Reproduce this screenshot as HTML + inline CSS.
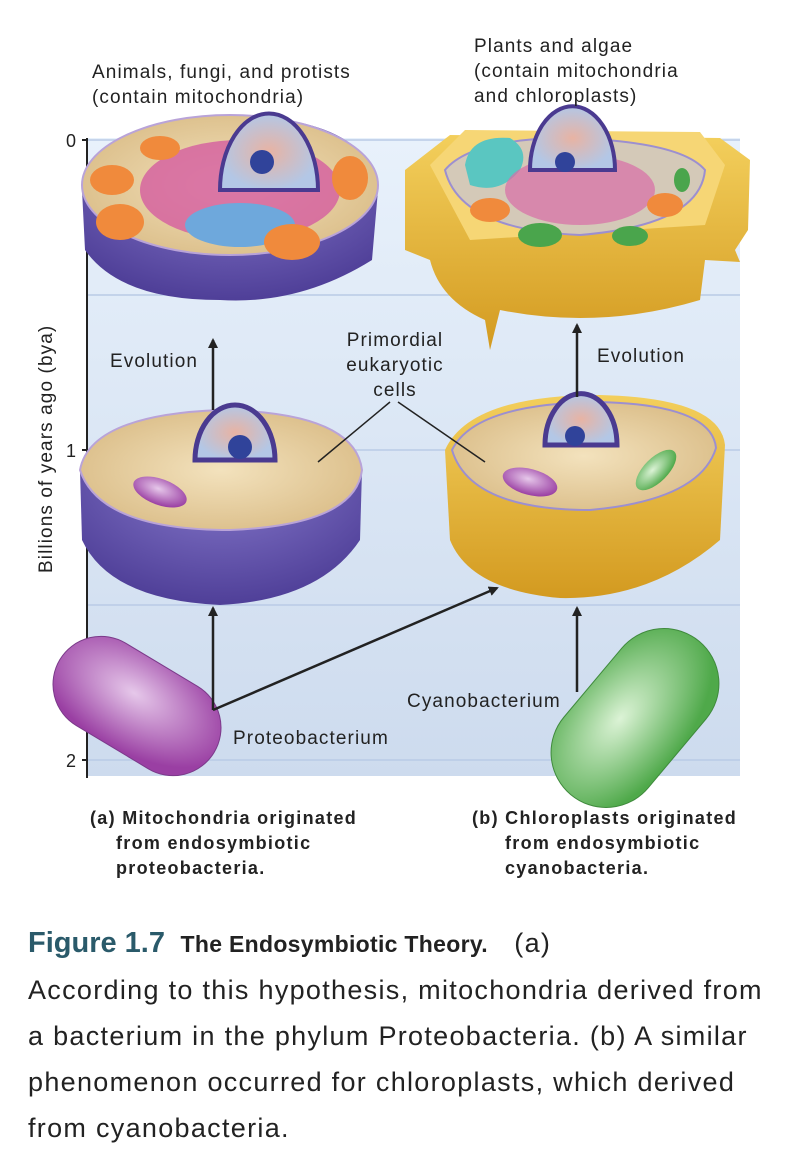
<!DOCTYPE html>
<html><head><meta charset="utf-8"><style>
body{margin:0;width:792px;height:1166px;background:#fff;font-family:"Liberation Sans",sans-serif;overflow:hidden;position:relative}
.t{position:absolute;color:#222;font-size:19px;line-height:25px;letter-spacing:1.1px;white-space:nowrap}
.cap{position:absolute;font-weight:bold;font-size:18px;line-height:25px;color:#222;letter-spacing:1.3px;white-space:nowrap}
#fig{position:absolute;left:28px;top:920px;width:770px;font-size:27px;line-height:46px;color:#222;letter-spacing:1.3px;white-space:nowrap}
</style></head><body>
<svg width="792" height="900" style="position:absolute;left:0;top:0">
<defs>
<linearGradient id="bg" x1="0" y1="0" x2="0" y2="1"><stop offset="0" stop-color="#e8f1fb"/><stop offset="1" stop-color="#cddbee"/></linearGradient>
<radialGradient id="pur" cx=".5" cy=".3" r=".7"><stop offset="0" stop-color="#8b7ed0"/><stop offset="1" stop-color="#4f3f98"/></radialGradient>
<radialGradient id="tan" cx=".5" cy=".5" r=".6"><stop offset="0" stop-color="#f3e2bd"/><stop offset="1" stop-color="#d9bb85"/></radialGradient>
<linearGradient id="yel" x1="0" y1="0" x2="0" y2="1"><stop offset="0" stop-color="#f3cf5c"/><stop offset="1" stop-color="#d39a20"/></linearGradient>
<radialGradient id="pb" cx=".45" cy=".4" r=".6"><stop offset="0" stop-color="#e6c8ea"/><stop offset="1" stop-color="#9a3fa3"/></radialGradient>
<radialGradient id="gb" cx=".45" cy=".4" r=".6"><stop offset="0" stop-color="#dcf3d6"/><stop offset="1" stop-color="#4fa94a"/></radialGradient>
<radialGradient id="nuc" cx=".5" cy=".5" r=".5"><stop offset="0" stop-color="#e8b3a3"/><stop offset="1" stop-color="#b3c7e6"/></radialGradient>
<marker id="ah" markerWidth="10" markerHeight="10" refX="8" refY="5" orient="auto" markerUnits="userSpaceOnUse"><path d="M0,0 L10,5 L0,10 z" fill="#222"/></marker>
</defs>
<g id="plot"></g>
<g>
<path d="M82,190 Q90,120 230,115 Q370,118 378,190 L372,260 Q300,305 220,300 Q120,300 85,250 Z" fill="url(#pur)"/>
<ellipse cx="230" cy="185" rx="148" ry="70" fill="url(#tan)" stroke="#b9a3d8" stroke-width="2"/>
<ellipse cx="240" cy="190" rx="100" ry="50" fill="#d45ca0" opacity=".8"/>
<ellipse cx="240" cy="225" rx="55" ry="22" fill="#6ea8dc"/>
<path d="M220,190 A48,75 0 0 1 318,190 Z" fill="url(#nuc)" stroke="#4a3a90" stroke-width="4"/>
<circle cx="262" cy="162" r="12" fill="#30439a"/>
<ellipse cx="112" cy="180" rx="22" ry="15" fill="#f08a3c"/>
<ellipse cx="120" cy="222" rx="24" ry="18" fill="#f08a3c"/>
<ellipse cx="160" cy="148" rx="20" ry="12" fill="#f08a3c"/>
<ellipse cx="292" cy="242" rx="28" ry="18" fill="#f08a3c"/>
<ellipse cx="350" cy="178" rx="18" ry="22" fill="#f08a3c"/>
</g>
<g>
<path d="M405,170 L450,135 L720,138 L750,160 L748,230 L735,250 L740,262 L705,260 L700,300 Q600,330 500,310 L490,350 L485,320 Q440,300 430,260 L405,250 Z" fill="url(#yel)"/>
<path d="M430,165 L465,130 L700,132 L725,165 L705,225 L470,240 Z" fill="#f6d675"/>
<path d="M445,170 Q470,140 560,138 Q680,140 705,170 Q700,225 580,235 Q460,230 445,170 Z" fill="#d4c9b8" stroke="#9c8fd0" stroke-width="2"/>
<path d="M465,165 Q470,135 510,138 Q530,150 520,170 Q500,195 470,185 Z" fill="#5ac6c1"/>
<ellipse cx="580" cy="190" rx="75" ry="35" fill="#d86ca6" opacity=".7"/>
<path d="M530,170 A40,60 0 0 1 615,170 Z" fill="url(#nuc)" stroke="#4a3a90" stroke-width="4"/>
<circle cx="565" cy="162" r="10" fill="#30439a"/>
<ellipse cx="540" cy="235" rx="22" ry="12" fill="#4aa54c"/>
<ellipse cx="630" cy="236" rx="18" ry="10" fill="#4aa54c"/>
<ellipse cx="665" cy="205" rx="18" ry="12" fill="#f08a3c"/>
<ellipse cx="490" cy="210" rx="20" ry="12" fill="#f08a3c"/>
<ellipse cx="682" cy="180" rx="8" ry="12" fill="#4aa54c"/>
</g>
<g>
<path d="M80,470 Q90,415 220,410 Q355,412 362,470 L360,540 Q320,600 220,605 Q110,600 82,540 Z" fill="url(#pur)"/>
<path d="M80,470 Q90,415 220,410 Q355,412 362,470 Q355,525 230,530 Q100,530 80,470 Z" fill="url(#tan)" stroke="#b9a3d8" stroke-width="2"/>
<path d="M195,460 A40,55 0 0 1 275,460 Z" fill="url(#nuc)" stroke="#4a3a90" stroke-width="5"/>
<circle cx="240" cy="447" r="12" fill="#30439a"/>
<ellipse cx="160" cy="492" rx="28" ry="13" fill="url(#pb)" transform="rotate(20 160 492)"/>
</g>
<g>
<path d="M445,450 Q470,395 600,395 Q720,398 725,445 L720,540 Q650,600 560,598 Q470,590 450,540 Z" fill="url(#yel)"/>
<path d="M452,450 Q475,403 600,402 Q712,405 716,448 Q700,500 590,510 Q470,510 452,450 Z" fill="url(#tan)" stroke="#9c8fd0" stroke-width="2"/>
<path d="M545,445 A35,50 0 0 1 617,445 Z" fill="url(#nuc)" stroke="#4a3a90" stroke-width="5"/>
<circle cx="575" cy="436" r="10" fill="#30439a"/>
<ellipse cx="530" cy="482" rx="28" ry="13" fill="url(#pb)" transform="rotate(15 530 482)"/>
<ellipse cx="656" cy="470" rx="26" ry="12" fill="url(#gb)" transform="rotate(-45 656 470)"/>
</g>
<rect x="47" y="658" width="180" height="96" rx="48" fill="url(#pb)" stroke="#7b3a8a" transform="rotate(31 137 706)"/>
<rect x="535" y="663" width="200" height="110" rx="55" fill="url(#gb)" stroke="#3f8a3c" transform="rotate(-50 635 718)"/>
<g stroke="#222" stroke-width="2.5" fill="none">
<line x1="213" y1="710" x2="213" y2="608" marker-end="url(#ah)"/>
<line x1="213" y1="710" x2="497" y2="588" marker-end="url(#ah)"/>
<line x1="213" y1="410" x2="213" y2="340" marker-end="url(#ah)"/>
<line x1="577" y1="692" x2="577" y2="608" marker-end="url(#ah)"/>
<line x1="577" y1="397" x2="577" y2="325" marker-end="url(#ah)"/>
<line x1="390" y1="402" x2="318" y2="462" stroke-width="1.5"/>
<line x1="398" y1="402" x2="485" y2="462" stroke-width="1.5"/>
</g>
</svg>
<div class="t" style="left:92px;top:60px">Animals, fungi, and protists<br>(contain mitochondria)</div>
<div class="t" style="left:474px;top:34px">Plants and algae<br>(contain mitochondria<br>and chloroplasts)</div>
<div class="t" style="left:110px;top:349px">Evolution</div>
<div class="t" style="left:597px;top:344px">Evolution</div>
<div class="t" style="left:325px;top:328px;text-align:center;width:140px">Primordial<br>eukaryotic<br>cells</div>
<div class="t" style="left:407px;top:689px">Cyanobacterium</div>
<div class="t" style="left:233px;top:726px">Proteobacterium</div>
<div class="t" style="left:34px;top:573px;transform:rotate(-90deg);transform-origin:0 0">Billions of years ago (bya)</div>
<div class="cap" style="left:90px;top:806px">(a) Mitochondria originated<br><span style="padding-left:26px">from endosymbiotic</span><br><span style="padding-left:26px">proteobacteria.</span></div>
<div class="cap" style="left:472px;top:806px">(b) Chloroplasts originated<br><span style="padding-left:33px">from endosymbiotic</span><br><span style="padding-left:33px">cyanobacteria.</span></div>
<div id="fig"><span style="color:#2a5a6a;font-weight:bold;font-size:29px;letter-spacing:0">Figure 1.7</span> <b style="font-size:23px;letter-spacing:0.3px">&nbsp;The Endosymbiotic Theory.</b> &nbsp; (a)<br>According to this hypothesis, mitochondria derived from<br>a bacterium in the phylum Proteobacteria. (b) A similar<br>phenomenon occurred for chloroplasts, which derived<br>from cyanobacteria.</div>
<script>
const tickValues=[0,1,2];
const tickLabels=["0","1","2"];
const gridValues=[0,0.5,1,1.5,2];
const NS="http://www.w3.org/2000/svg";
const y=v=>140+v*310;
const g=document.getElementById('plot');
function mk(t,a){const e=document.createElementNS(NS,t);for(const k in a)e.setAttribute(k,a[k]);g.appendChild(e);return e;}
const bg=mk('rect',{x:88,y:138,width:652,height:638,fill:'url(#bg)'});


gridValues.forEach(v=>{const l=mk('line',{x1:88,x2:740,y1:y(v),y2:y(v),stroke:'#b9cbe6','stroke-width':1.5});

});
const ax=mk('line',{x1:87,x2:87,y1:138,y2:778,stroke:'#222','stroke-width':2});


tickValues.forEach((v,i)=>{const tk=mk('line',{x1:82,x2:88,y1:y(v),y2:y(v),stroke:'#222','stroke-width':2});


const t=mk('text',{x:76,y:y(v)+7,'text-anchor':'end','font-size':18,fill:'#222','font-family':'Liberation Sans'});t.textContent=tickLabels[i];

});
</script>
</body></html>
